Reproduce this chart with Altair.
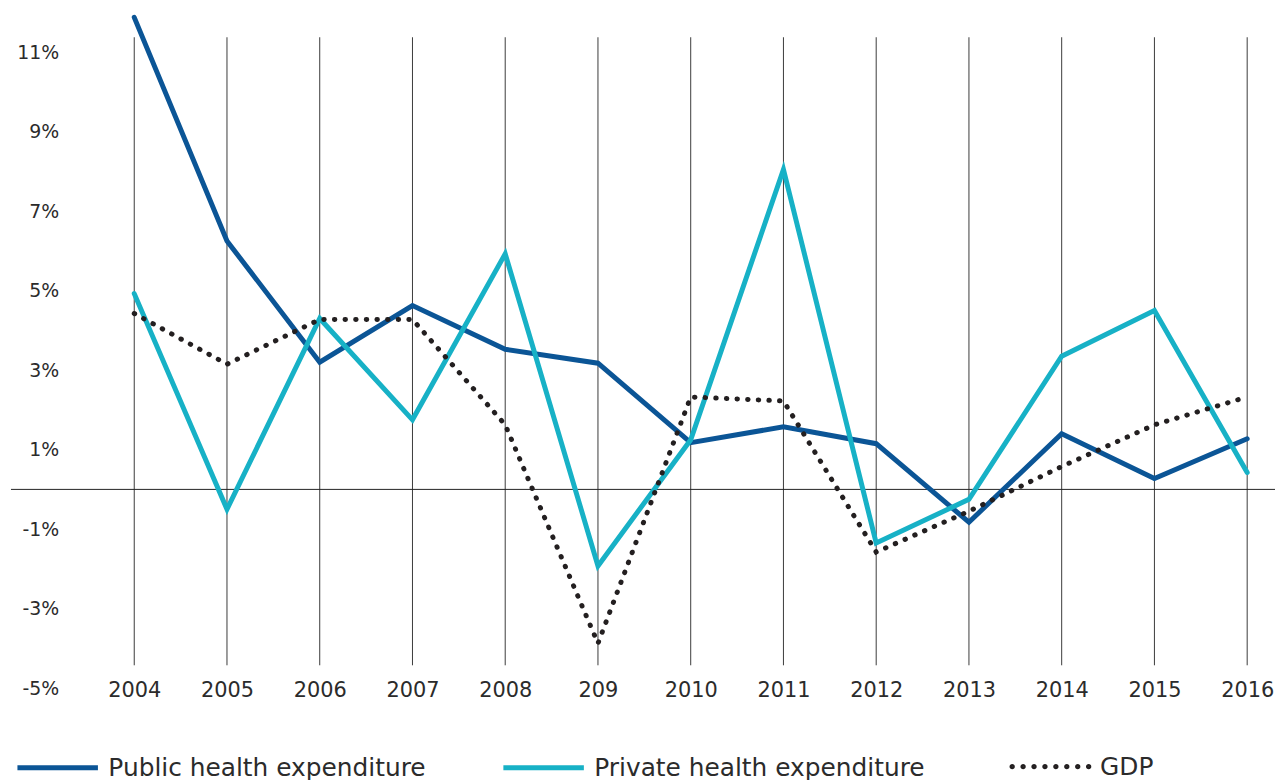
import altair as alt
import pandas as pd

years = list(range(2004, 2017))
year_labels = ["2004", "2005", "2006", "2007", "2008", "209", "2010",
               "2011", "2012", "2013", "2014", "2015", "2016"]
public = [11.875, 6.25, 3.2, 4.625, 3.525, 3.175, 1.175, 1.575, 1.15, -0.825, 1.4, 0.275, 1.275]
private = [4.925, -0.5, 4.3, 1.75, 5.925, -1.925, 1.25, 8.05, -1.35, -0.25, 3.35, 4.5, 0.425]
gdp = [4.425, 3.15, 4.275, 4.275, 1.625, -3.875, 2.325, 2.225, -1.575, -0.55, 0.575, 1.625, 2.325]
y_ticks = [-5, -3, -1, 1, 3, 5, 7, 9, 11]
health_names = ["Public health expenditure", "Private health expenditure"]
health_colors = ["#0b5596", "#17b1c6"]
gdp_name = "GDP"
gdp_color = "#231f20"

rows = []
for name, vals in zip(health_names, [public, private]):
    for yr, v in zip(years, vals):
        rows.append({"year": yr, "value": v, "series": name})
df_health = pd.DataFrame(rows)
df_gdp = pd.DataFrame({"year": years, "value": gdp, "series": gdp_name})
df_years = pd.DataFrame({"year": years})
df_zero = pd.DataFrame({"v": [0]})

FONT = "DejaVu Sans"
W, H = 1272, 680

xscale = alt.Scale(domain=[2002.671, 2016.3], nice=False, zero=False)
yscale = alt.Scale(domain=[-5, 12], nice=False, zero=False)

label_arr = "[" + ",".join("'%s'" % s for s in year_labels) + "]"

xaxis = alt.Axis(values=years, title=None, domain=False, ticks=False, grid=False,
                 labelExpr=label_arr + "[datum.value - 2004]",
                 labelPadding=2, labelBaseline="middle", labelFontSize=21,
                 labelColor="#2b2b2b", labelFont=FONT, offset=0)
yaxis = alt.Axis(values=y_ticks, title=None, domain=False, ticks=False, grid=False,
                 labelExpr="datum.value + '%'", labelPadding=0, offset=-48,
                 labelFontSize=19, labelColor="#2b2b2b", labelFont=FONT,
                 labelAlign="right", labelBaseline="middle")

# dotted legend symbol: row of small circles in the unit square
r = 0.035
dot_path = ""
n = 8
for i in range(n):
    cx = -0.95 + i * (1.9 / (n - 1))
    dot_path += "M%.4f,0a%.4f,%.4f 0 1,0 %.4f,0a%.4f,%.4f 0 1,0 %.4f,0" % (
        cx - r, r, r, 2 * r, r, r, -2 * r)

legend_common = dict(title=None, orient="none", direction="horizontal",
                     symbolSize=6561, labelFontSize=25, labelFont=FONT,
                     labelColor="#2b2b2b", labelOffset=8, padding=0, labelLimit=600)

grid = alt.Chart(df_years).mark_rule(color="#3a3a3a", strokeWidth=1).encode(
    x=alt.X("year:Q", scale=xscale, axis=xaxis),
    y=alt.value(25),
    y2=alt.value(657),
)

zero = alt.Chart(df_zero).mark_rule(color="#222222", strokeWidth=1).encode(
    y=alt.Y("v:Q", scale=yscale, axis=yaxis),
    x=alt.value(0),
    x2=alt.value(W),
)

health = alt.Chart(df_health).mark_line(strokeWidth=5, strokeCap="round", strokeJoin="miter").encode(
    x=alt.X("year:Q", scale=xscale, axis=xaxis),
    y=alt.Y("value:Q", scale=yscale, axis=yaxis),
    color=alt.Color("series:N",
                    scale=alt.Scale(domain=health_names, range=health_colors),
                    legend=alt.Legend(legendX=4, legendY=717, columns=2, columnPadding=67,
                                      symbolType="stroke", symbolStrokeWidth=5,
                                      **legend_common)),
    order=alt.Order("year:Q"),
)

gdp_line = alt.Chart(df_gdp).mark_line(strokeWidth=5, strokeCap="round", strokeDash=[0.5, 10.2]).encode(
    x=alt.X("year:Q", scale=xscale, axis=xaxis),
    y=alt.Y("value:Q", scale=yscale, axis=yaxis),
    color=alt.Color("series:N",
                    scale=alt.Scale(domain=[gdp_name], range=[gdp_color]),
                    legend=alt.Legend(legendX=1004, legendY=717,
                                      symbolType=dot_path, symbolStrokeWidth=2.5,
                                      symbolDash=[1, 0], **legend_common)),
    order=alt.Order("year:Q"),
)

chart = alt.layer(grid, zero, health, gdp_line).resolve_scale(color="independent").properties(
    width=W, height=H,
    autosize=alt.AutoSizeParams(type="none"),
    padding={"left": 3, "top": 2, "right": 0, "bottom": 90},
).configure(font=FONT).configure_view(stroke=None)

chart.save("out.html", embed_options={"renderer": "svg", "actions": False})
